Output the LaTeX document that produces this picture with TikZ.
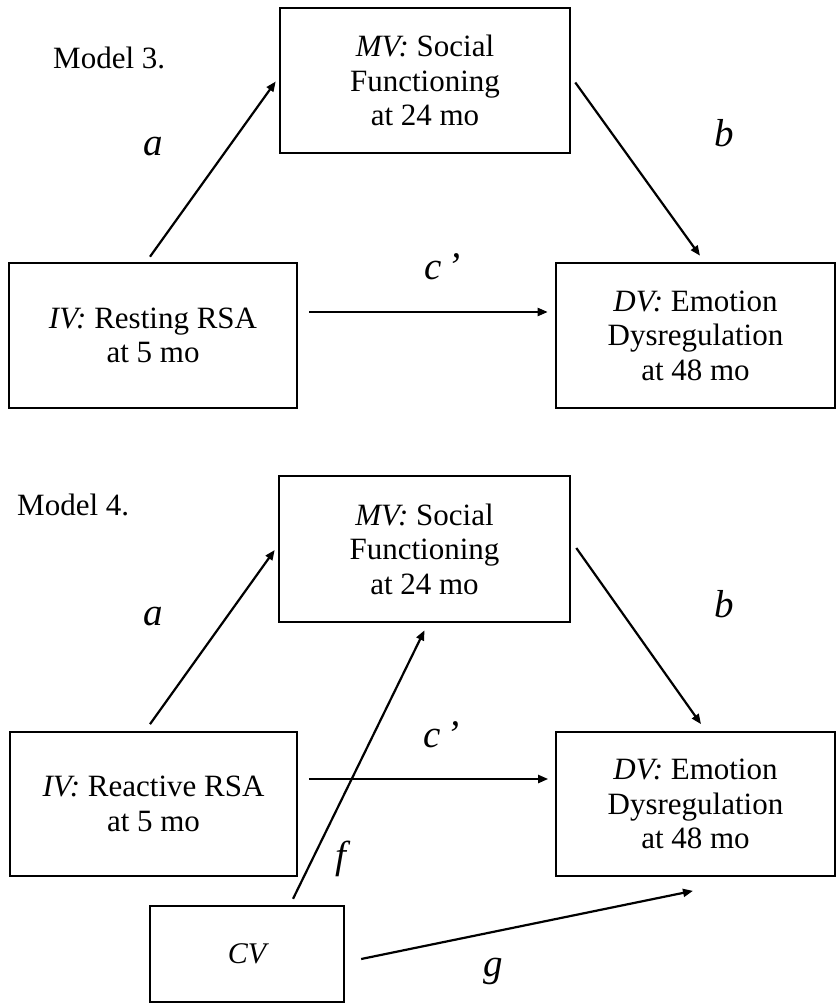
\documentclass[tikz,border=0pt]{standalone}
\usepackage{fontspec}
\setmainfont{Liberation Serif}
\usetikzlibrary{arrows.meta}
\tikzset{
  boxA/.style={draw, line width=2.6pt, inner sep=0pt, align=center, font=\fontsize{31}{34.5}\selectfont},
  boxB/.style={draw, line width=1.7pt, inner sep=0pt, align=center, font=\fontsize{31}{34.5}\selectfont},
  arr/.style={line width=2.2pt, -{Triangle[length=10pt,width=8pt]}},
  lab/.style={font=\fontsize{39}{44}\selectfont\itshape, inner sep=0pt},
  title/.style={font=\fontsize{31}{34}\selectfont, inner sep=0pt}
}
\begin{document}
\begin{tikzpicture}[x=1pt,y=-1pt]
\useasboundingbox (0,0) rectangle (836,1003);
% ---------- Model 3 ----------
\node[title, anchor=base west] (t3) at (53,69) {Model 3.};
\node[boxA, minimum width=290pt, minimum height=145pt] (mv3) at (425,80.5) {\textit{MV:} Social\\Functioning\\at 24 mo};
\node[boxA, minimum width=288pt, minimum height=145pt] (iv3) at (153,335.5) {\textit{IV:} Resting RSA\\at 5 mo};
\node[boxA, minimum width=279pt, minimum height=145pt] (dv3) at (695.5,335.5) {\textit{DV:} Emotion\\Dysregulation\\at 48 mo};
\draw[arr] ([xshift=-3pt,yshift=5pt]iv3.north) -- ([xshift=-3pt,yshift=-1pt]mv3.west);
\draw[arr] ([xshift=4pt,yshift=-2pt]mv3.east) -- ([xshift=4.5pt,yshift=6pt]dv3.north);
\draw[arr] ([xshift=11pt,yshift=23.5pt]iv3.east) -- ([xshift=-7pt,yshift=23.5pt]dv3.west);
\node[lab, anchor=base] (la3) at (153,156) {a};
\node[lab, anchor=base] (lb3) at (724,147) {b};
\node[lab, anchor=base west] (lc3) at (424,279) {c\,’};
% ---------- Model 4 ----------
\node[title, anchor=base west] (t4) at (17,515) {Model 4.};
\node[boxA, minimum width=291pt, minimum height=146pt] (mv4) at (424.5,549) {\textit{MV:} Social\\Functioning\\at 24 mo};
\node[boxB, minimum width=287pt, minimum height=144pt] (iv4) at (153.5,804) {\textit{IV:} Reactive RSA\\at 5 mo};
\node[boxB, minimum width=279pt, minimum height=144pt] (dv4) at (695.5,804) {\textit{DV:} Emotion\\Dysregulation\\at 48 mo};
\node[draw, line width=2.3pt, inner sep=0pt, minimum width=194pt, minimum height=96pt, font=\fontsize{30}{34}\selectfont\itshape] (cv) at (247,954) {CV};
\draw[arr] ([xshift=-3.5pt,yshift=7pt]iv4.north) -- ([xshift=-3pt,yshift=-1pt]mv4.west);
\draw[arr] ([xshift=5pt,yshift=1pt]mv4.east) -- ([xshift=5.5pt,yshift=7pt]dv4.north);
\draw[arr] ([xshift=11pt,yshift=25pt]iv4.east) -- ([xshift=-7pt,yshift=25pt]dv4.west);
\draw[arr] ([xshift=46pt,yshift=6pt]cv.north) -- ([yshift=-7pt]mv4.south);
\draw[arr] ([xshift=16pt,yshift=-5pt]cv.east) -- ([xshift=-2.5pt,yshift=-14pt]dv4.south);
\node[lab, anchor=base] (la4) at (153,625) {a};
\node[lab, anchor=base] (lb4) at (724,617) {b};
\node[lab, anchor=base west] (lc4) at (423,747) {c\,’};
\node[lab] (lf4) at (341,859) {f};
\node[lab] (lg4) at (493,971) {g};
\end{tikzpicture}
\end{document}
